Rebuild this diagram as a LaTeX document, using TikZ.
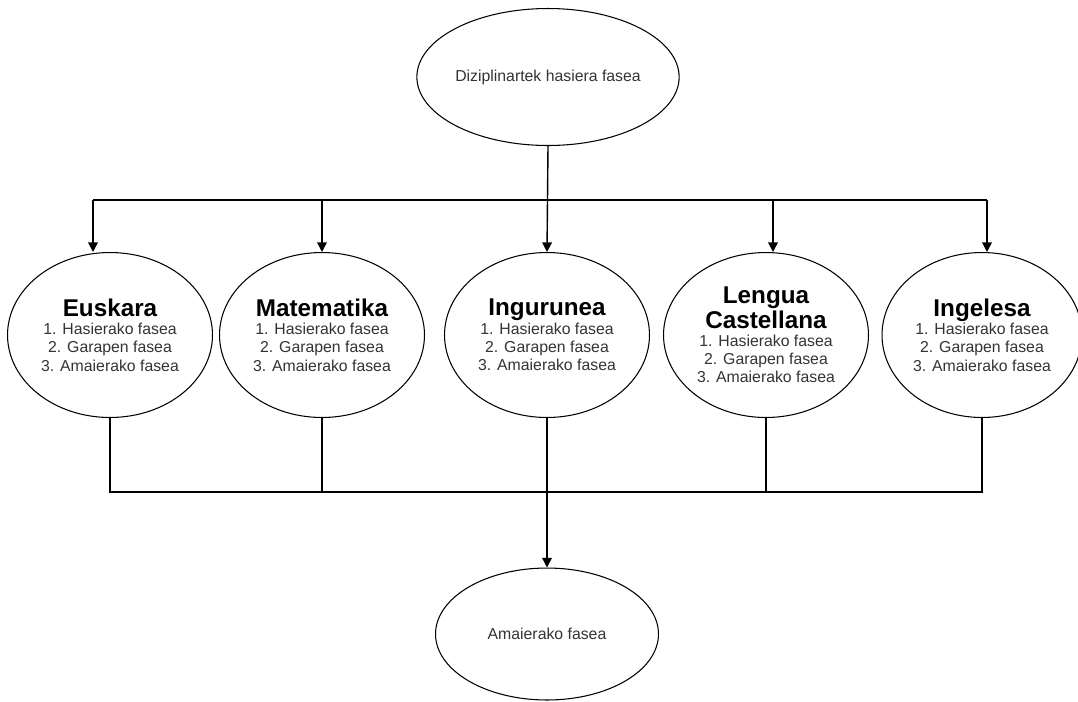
\documentclass[tikz,border=0pt]{standalone}
\usepackage{fontspec}
\setmainfont{Liberation Sans}
\usetikzlibrary{shapes.geometric,arrows.meta}

\newcommand{\izena}[1]{{\fontsize{13.8}{15.5}\selectfont\bfseries\color{black} #1}}

\begin{document}
\begin{tikzpicture}[
    x=0.02cm, y=-0.02cm,
    every node/.style={align=center},
    fase/.style={ellipse, draw, line width=0.6pt, inner sep=0pt,
      font=\fontsize{9}{10.4}\selectfont, text=black!80},
    arloa/.style={fase, minimum width=4.1cm, minimum height=3.3cm},
    lerroa/.style={line width=0.8pt},
    gezia/.style={lerroa, -{Triangle[length=5.5pt,width=5.5pt]}}
  ]
  \useasboundingbox (0,0) rectangle (1078,701);

  % hasiera eta amaiera
  \node[fase, minimum width=4.34cm, minimum height=2.74cm] (hasi) at (548,77) {Diziplinartek hasiera fasea};
  \node[fase, minimum width=4.46cm, minimum height=2.64cm] (amai) at (547,634) {Amaierako fasea};

  % arloak
  \node[arloa] (eusk) at (110,335) {\izena{Euskara}\\1. Hasierako fasea\\2. Garapen fasea\\3. Amaierako fasea};
  \node[arloa] (mate) at (322,335) {\izena{Matematika}\\1. Hasierako fasea\\2. Garapen fasea\\3. Amaierako fasea};
  \node[arloa] (ingu) at (547,335) {\izena{Ingurunea}\\1. Hasierako fasea\\2. Garapen fasea\\3. Amaierako fasea};
  \node[arloa] (leng) at (766,335) {\izena{Lengua}\\\izena{Castellana}\\1. Hasierako fasea\\2. Garapen fasea\\3. Amaierako fasea};
  \node[arloa, minimum width=4.0cm] (inge) at (982,335) {\izena{Ingelesa}\\1. Hasierako fasea\\2. Garapen fasea\\3. Amaierako fasea};

  \coordinate (goiA) at (93,200);
  \coordinate (goiD) at (773,200);
  \coordinate (goiE) at (987,200);
  \coordinate (bildu) at (547,492);

  % banaketa
  \draw[lerroa] (goiA) -- (goiE);
  \draw[gezia] (hasi.south) -- (ingu.north);
  \draw[gezia] (goiA) -- (goiA |- eusk.north);
  \draw[gezia] (mate.north |- goiA) -- (mate.north);
  \draw[gezia] (goiD) -- (goiD |- leng.north);
  \draw[gezia] (goiE) -- (goiE |- inge.north);

  % bilketa
  \draw[lerroa] (eusk.south) |- (bildu) -| (inge.south);
  \draw[lerroa] (mate.south) -- (mate.south |- bildu);
  \draw[lerroa] (leng.south) -- (leng.south |- bildu);
  \draw[gezia] (ingu.south) -- (amai.north);
\end{tikzpicture}
\end{document}
